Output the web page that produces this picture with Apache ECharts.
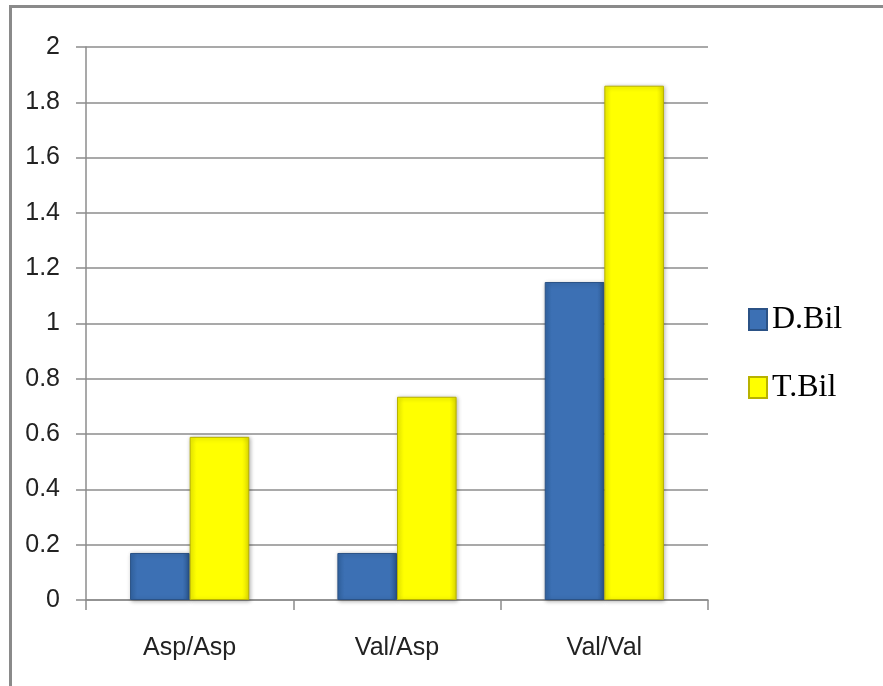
<!DOCTYPE html>
<html>
<head>
<meta charset="utf-8">
<script src="https://cdn.jsdelivr.net/npm/echarts@6/dist/echarts.min.js"></script>
<style>
  html, body { margin: 0; padding: 0; background: #ffffff; }
  #chart { width: 883px; height: 686px; }
</style>
</head>
<body>
<div id="chart"></div>
<script>
// Bilirubin ratios per pairing
const categories = ['Asp/Asp', 'Val/Asp', 'Val/Val'];
const dBil = [0.17, 0.17, 1.15];
const tBil = [0.59, 0.735, 1.86];
const yTicks = { min: 0, max: 2, interval: 0.2 };

const chart = echarts.init(document.getElementById('chart'));

const axisGrey = '#8c8c8c';
const labelFont = '"Liberation Sans Narrow", "Arial Narrow", "Liberation Sans", sans-serif';

chart.setOption({
  animation: false,
  backgroundColor: '#ffffff',
  graphic: [
    // frame edges along the top and the left
    { type: 'rect', shape: { x: 9, y: 5, width: 874, height: 3 }, style: { fill: '#8a8a8a' }, silent: true },
    { type: 'rect', shape: { x: 9, y: 5, width: 3, height: 681 }, style: { fill: '#8a8a8a' }, silent: true }
  ],
  grid: { left: 86, right: 175, top: 47, bottom: 86 },
  legend: {
    orient: 'vertical',
    left: 743,
    top: 298,
    itemWidth: 18,
    itemHeight: 21,
    itemGap: 35,
    icon: 'rect',
    textStyle: {
      fontFamily: '"Liberation Serif", "Times New Roman", serif',
      fontSize: 32,
      lineHeight: 33,
      color: '#000'
    },
    data: ['D.Bil', 'T.Bil']
  },
  xAxis: {
    type: 'category',
    data: categories,
    boundaryGap: true,
    axisLine: { show: true, lineStyle: { color: axisGrey, width: 1.5 } },
    axisTick: { show: true, length: 10, lineStyle: { color: axisGrey, width: 1.5 } },
    axisLabel: { margin: 36, fontFamily: labelFont, fontSize: 25, color: '#222' }
  },
  yAxis: {
    type: 'value',
    min: yTicks.min,
    max: yTicks.max,
    interval: yTicks.interval,
    axisLine: { show: true, lineStyle: { color: axisGrey, width: 1.5 } },
    axisTick: { show: true, length: 10, lineStyle: { color: axisGrey, width: 1.5 } },
    splitLine: { show: true, lineStyle: { color: axisGrey, width: 1.5 } },
    axisLabel: {
      margin: 26,
      fontFamily: labelFont,
      fontSize: 25,
      color: '#222',
      formatter: v => String(Math.round(v * 10) / 10)
    }
  },
  series: [
    {
      name: 'D.Bil',
      type: 'bar',
      data: dBil,
      barGap: '0%',
      barCategoryGap: '42.5%',
      itemStyle: {
        color: {
          type: 'linear', x: 0, y: 0, x2: 1, y2: 0,
          colorStops: [
            { offset: 0, color: '#3366a6' },
            { offset: 0.12, color: '#3c70b4' },
            { offset: 0.88, color: '#3c70b4' },
            { offset: 1, color: '#2c5890' }
          ]
        },
        borderColor: '#2b5286',
        borderWidth: 1,
        shadowColor: 'rgba(0,0,0,0.3)',
        shadowBlur: 4,
        shadowOffsetX: 1,
        shadowOffsetY: 1
      }
    },
    {
      name: 'T.Bil',
      type: 'bar',
      data: tBil,
      itemStyle: {
        color: {
          type: 'linear', x: 0, y: 0, x2: 1, y2: 0,
          colorStops: [
            { offset: 0, color: '#f2f200' },
            { offset: 0.12, color: '#ffff00' },
            { offset: 0.88, color: '#ffff00' },
            { offset: 1, color: '#e0dc00' }
          ]
        },
        borderColor: '#b8b200',
        borderWidth: 1,
        shadowColor: 'rgba(0,0,0,0.3)',
        shadowBlur: 4,
        shadowOffsetX: 1,
        shadowOffsetY: 1
      }
    }
  ]
});
</script>
</body>
</html>
